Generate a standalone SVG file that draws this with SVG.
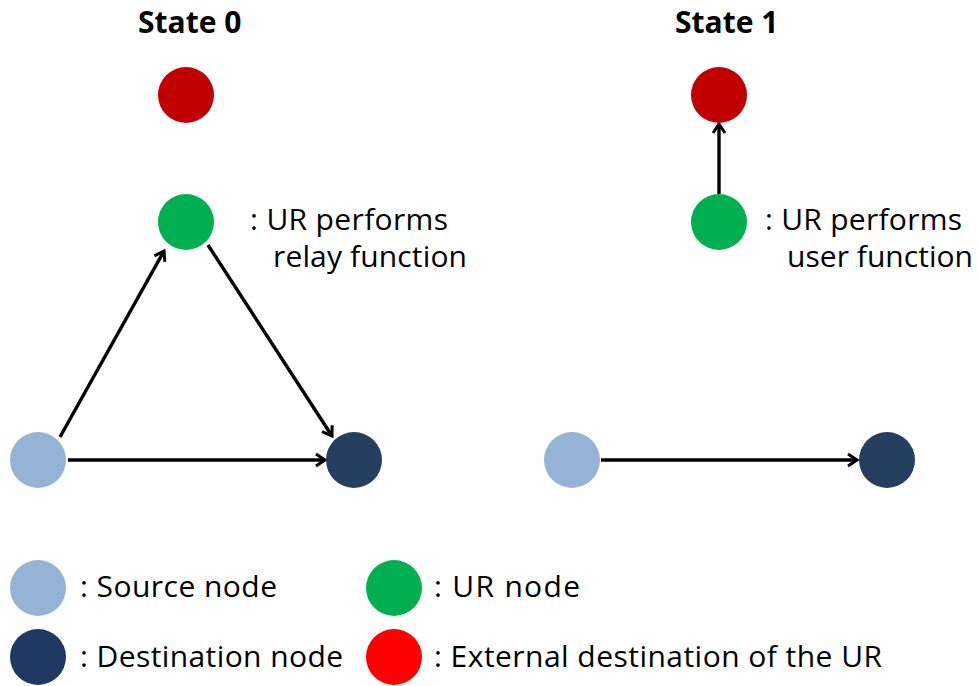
<svg xmlns="http://www.w3.org/2000/svg" width="978" height="686" viewBox="0 0 978 686">
<style>
.t{font-family:"Open Sans","Noto Sans","Liberation Sans",sans-serif;font-size:30px;fill:#000}
.h{font-family:"Open Sans","Noto Sans","Liberation Sans",sans-serif;font-size:30px;font-weight:bold;fill:#000}
.src{fill:#95B3D7}.dst{fill:#243F60}.ur{fill:#00B050}.ext{fill:#C00000}
.c{stroke:#000;stroke-width:3.4;fill:none}
</style>
<defs>
<marker id="ah" markerUnits="userSpaceOnUse" markerWidth="16" markerHeight="16" refX="12" refY="8" orient="auto" viewBox="0 0 16 16">
<path d="M3,2 L12,8 L3,14" fill="none" stroke="#000" stroke-width="3"/>
</marker>
</defs>
<rect width="978" height="686" fill="#fff"/>
<text class="h" x="138" y="33">State 0</text>
<text class="h" x="675" y="33">State 1</text>
<g id="connectors">
<line class="c" x1="68" y1="460" x2="325" y2="460" marker-end="url(#ah)"/>
<line class="c" x1="60" y1="437" x2="164" y2="251" marker-end="url(#ah)"/>
<line class="c" x1="208" y1="245" x2="332" y2="436" marker-end="url(#ah)"/>
<line class="c" x1="719" y1="194" x2="719" y2="124" marker-end="url(#ah)"/>
<line class="c" x1="601" y1="460" x2="857" y2="460" marker-end="url(#ah)"/>
</g>
<g id="s0-ext"><circle class="ext" cx="186" cy="95" r="28"/></g>
<g id="s0-ur"><circle class="ur" cx="186" cy="222" r="28"/>
<text class="t" x="250" y="230" textLength="198">: UR performs</text>
<text class="t" x="273" y="267" textLength="194">relay function</text></g>
<g id="s0-src"><circle class="src" cx="38" cy="460" r="28"/></g>
<g id="s0-dst"><circle class="dst" cx="354" cy="460" r="28"/></g>
<g id="s1-ext"><circle class="ext" cx="719" cy="95" r="28"/></g>
<g id="s1-ur"><circle class="ur" cx="719" cy="222" r="28"/>
<text class="t" x="765" y="230" textLength="197">: UR performs</text>
<text class="t" x="787" y="267" textLength="186">user function</text></g>
<g id="s1-src"><circle class="src" cx="572" cy="460" r="28"/></g>
<g id="s1-dst"><circle class="dst" cx="887" cy="460" r="28"/></g>
<g id="legend-src"><circle class="src" cx="38" cy="588" r="28"/><text class="t" x="80" y="597" textLength="197">: Source node</text></g>
<g id="legend-dst"><circle fill="#1F3864" cx="38" cy="657" r="28"/><text class="t" x="80" y="667" textLength="263">: Destination node</text></g>
<g id="legend-ur"><circle class="ur" cx="394" cy="588" r="28"/><text class="t" x="434" y="597" textLength="146">: UR node</text></g>
<g id="legend-ext"><circle fill="#FF0000" cx="394" cy="657" r="28"/><text class="t" x="434" y="667" textLength="448">: External destination of the UR</text></g>
</svg>
